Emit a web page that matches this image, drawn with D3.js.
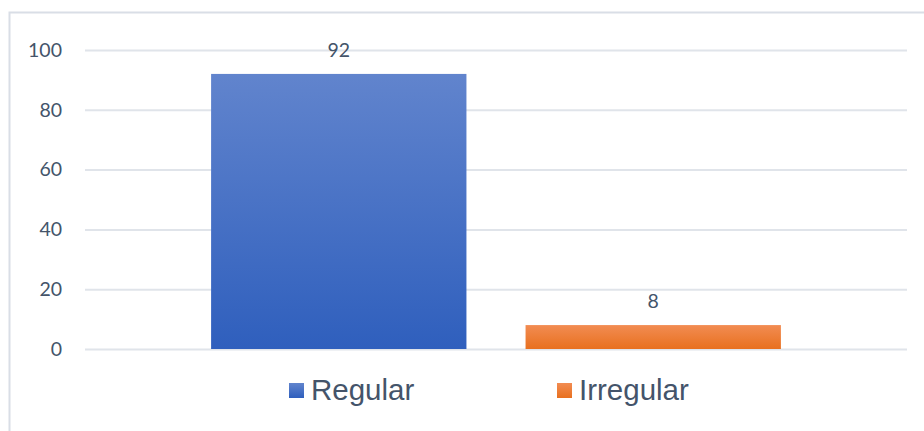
<!DOCTYPE html>
<html>
<head>
<meta charset="utf-8">
<script src="https://cdn.jsdelivr.net/npm/d3@7"></script>
<style>
  html, body { margin: 0; padding: 0; background: #fff; }
  svg { display: block; }
</style>
</head>
<body>
<svg id="chart" width="924" height="431"></svg>
<script>
// Share of cases by type (percent)
const seriesNames = ["Regular", "Irregular"];
const seriesValues = [92, 8];
const yTicks = [0, 20, 40, 60, 80, 100];
const seriesTop = ["#6184cd", "#f28c52"];
const seriesBottom = ["#2f5fbd", "#e8701f"];

const svg = d3.select("#chart");
const W = 924, H = 431;
const margin = { left: 85, right: 17, top: 50, bottom: 82 };

// chart frame
svg.append("rect")
  .attr("x", 9.5).attr("y", 12.5)
  .attr("width", 940).attr("height", 440)
  .attr("fill", "none").attr("stroke", "#d9dee6").attr("stroke-width", 2);

const x = d3.scaleBand()
  .domain(seriesNames)
  .range([margin.left, W - margin.right])
  .paddingInner(0.188)
  .paddingOuter(0.401);

const y = d3.scaleLinear().domain([0, 100]).range([H - margin.bottom, margin.top]);

// gradients
const defs = svg.append("defs");
seriesNames.forEach((s, i) => {
  const g = defs.append("linearGradient").attr("id", "grad" + i)
    .attr("x1", 0).attr("y1", 0).attr("x2", 0).attr("y2", 1);
  g.append("stop").attr("offset", "0%").attr("stop-color", seriesTop[i]);
  g.append("stop").attr("offset", "100%").attr("stop-color", seriesBottom[i]);
});

// gridlines
const yAxis = d3.axisLeft(y).tickValues(yTicks).tickSize(-(W - margin.left - margin.right)).tickPadding(23);
const ga = svg.append("g").attr("transform", `translate(${margin.left},0)`).call(yAxis);
ga.select(".domain").remove();
ga.selectAll(".tick line").attr("stroke", "#e0e4ea").attr("stroke-width", 2);
ga.selectAll(".tick text")
  .attr("fill", "#44546a")
  .attr("font-family", "Lato, 'Open Sans', sans-serif")
  .attr("font-size", 19.5);

// bars
svg.selectAll("rect.bar").data(seriesValues).join("rect")
  .attr("class", "bar")
  .attr("x", (d, i) => x(seriesNames[i]))
  .attr("width", x.bandwidth())
  .attr("y", d => y(d))
  .attr("height", d => y(0) - y(d))
  .attr("fill", (d, i) => `url(#grad${i})`);

// value labels
svg.selectAll("text.val").data(seriesValues).join("text")
  .attr("class", "val")
  .attr("x", (d, i) => x(seriesNames[i]) + x.bandwidth() / 2)
  .attr("y", d => y(d) - 17)
  .attr("text-anchor", "middle")
  .attr("fill", "#44546a")
  .attr("font-family", "Lato, 'Open Sans', sans-serif")
  .attr("font-size", 19.5)
  .text(d => d);

// legend
const legendX = [289, 557];
const leg = svg.selectAll("g.leg").data(seriesNames).join("g")
  .attr("class", "leg")
  .attr("transform", (d, i) => `translate(${legendX[i]},383)`);
leg.append("rect").attr("width", 15).attr("height", 15)
  .attr("fill", (d, i) => `url(#grad${i})`);
leg.append("text").attr("x", 22).attr("y", 17)
  .attr("fill", "#44546a")
  .attr("font-family", "'Liberation Sans', Arial, sans-serif")
  .attr("font-size", 29.5)
  .text(d => d);
</script>
</body>
</html>
